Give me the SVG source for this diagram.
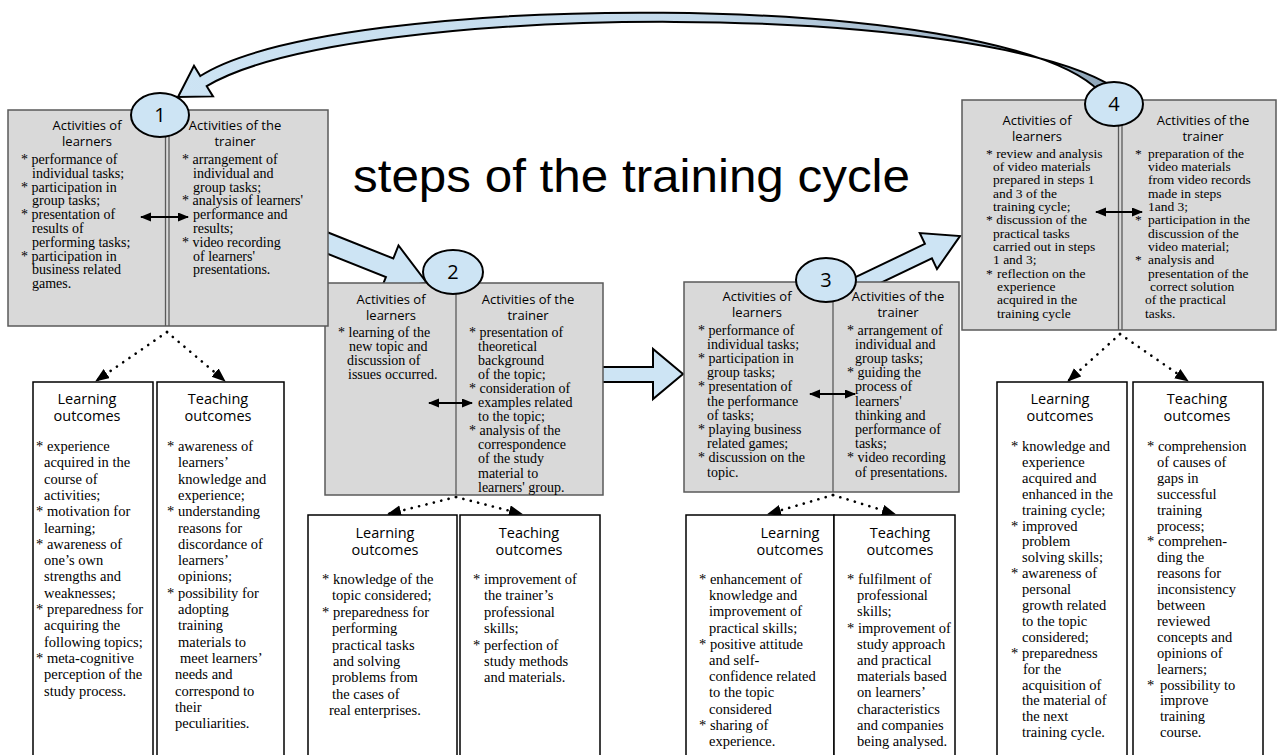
<svg xmlns="http://www.w3.org/2000/svg" width="1280" height="755" viewBox="0 0 1280 755">
<style>
.act{fill:#d9d9d9;stroke:#5a5a5a;stroke-width:1.5}
.dv{stroke:#5a5a5a;stroke-width:1.3;fill:none}
.out{fill:#fff;stroke:#000;stroke-width:1.5}
.circ{fill:#cde4f4;stroke:#000;stroke-width:2}
.num{font-family:"Open Sans","Noto Sans",sans-serif;font-size:20px;text-anchor:middle;fill:#000}
.h{font-family:"Open Sans","Noto Sans",sans-serif;font-size:13px;text-anchor:middle;fill:#000}
.oh{font-family:"Open Sans","Noto Sans",sans-serif;font-size:14.5px;text-anchor:middle;fill:#000}
.b{font-family:"Liberation Serif","Times New Roman",serif;font-size:14px;fill:#000}
.b4{font-family:"Liberation Serif","Times New Roman",serif;font-size:13.5px;fill:#000}
.ob{font-family:"Liberation Serif","Times New Roman",serif;font-size:14.5px;fill:#000}
.big{fill:#cde4f4;stroke:#000;stroke-width:2;stroke-linejoin:miter}
.dot{stroke:#000;stroke-width:2.6;stroke-dasharray:0.1 7.5;stroke-linecap:round;fill:none;marker-end:url(#dh)}
.dbl{stroke:#000;stroke-width:2;marker-start:url(#ah);marker-end:url(#ah)}
.title{font-family:"Liberation Sans",Arial,sans-serif;font-size:46px;fill:#000}
</style>
<defs>
<linearGradient id="arcg" gradientUnits="userSpaceOnUse" x1="170" y1="0" x2="1130" y2="0">
<stop offset="0" stop-color="#cde4f4"/>
<stop offset="0.55" stop-color="#c3d9ea"/>
<stop offset="0.8" stop-color="#a3b8ca"/>
<stop offset="1" stop-color="#8ea5b8"/>
</linearGradient>
<marker id="ah" markerUnits="userSpaceOnUse" markerWidth="12" markerHeight="10" refX="10" refY="4.5" orient="auto-start-reverse"><path d="M0,0 L11,4.5 L0,9 z" fill="#000"/></marker>
<marker id="dh" markerUnits="userSpaceOnUse" markerWidth="16" markerHeight="12" refX="13" refY="5.5" orient="auto"><path d="M0,0 L14,5.5 L0,11 z" fill="#000"/></marker>
</defs>
<rect x="0" y="0" width="1280" height="755" fill="#fff"/>

<text class="title" x="353" y="192" textLength="557" lengthAdjust="spacingAndGlyphs">steps of the training cycle</text>

<g id="connectors">
<path class="big" style="fill:url(#arcg)" d="M200.3,76 C335,-10 1000,-12 1100,92 L1125,95 C1005,-2 350,0 206.7,86.2 L213,96.4 L178,97 L194,65.8 Z"/>
<polygon class="big" points="323.7,230.7 393.3,258.5 398.5,245.5 426.7,282.7 380.7,290.1 385.9,277.1 316.3,249.3"/>
<polygon class="big" points="598,367 653,367 653,349 683,374 653,399 653,382 598,382"/>
<polygon class="big" points="852.9,278.4 924.9,243.9 919.8,233.1 960,236 937,269.1 931.9,258.3 859.7,292.8"/>
<line class="dot" x1="167" y1="332" x2="96" y2="381"/>
<line class="dot" x1="167" y1="332" x2="225" y2="381"/>
<line class="dot" x1="456" y1="497" x2="388" y2="514"/>
<line class="dot" x1="456" y1="497" x2="522" y2="514"/>
<line class="dot" x1="833" y1="495" x2="768" y2="514"/>
<line class="dot" x1="833" y1="495" x2="895" y2="514"/>
<line class="dot" x1="1120" y1="334" x2="1068" y2="381"/>
<line class="dot" x1="1120" y1="334" x2="1188" y2="381"/>
</g>

<g id="step2">
<rect class="act" x="325" y="283" width="278" height="212"/>
<line class="dv" x1="456" y1="283" x2="456" y2="495"/>
<text class="h"><tspan x="391" y="304">Activities of</tspan><tspan x="391" y="320">learners</tspan></text>
<text class="h"><tspan x="528" y="304">Activities of the</tspan><tspan x="528" y="320">trainer</tspan></text>
<text class="b"><tspan x="338" y="336.5">* learning of the</tspan><tspan x="349" y="350.5">new topic and</tspan><tspan x="347" y="364.5">discussion of</tspan><tspan x="348" y="378.5">issues occurred.</tspan></text>
<text class="b"><tspan x="469" y="336.5">* presentation of</tspan><tspan x="478" y="350.6">theoretical</tspan><tspan x="478" y="364.7">background</tspan><tspan x="478" y="378.8">of the topic;</tspan><tspan x="469" y="392.9">* consideration of</tspan><tspan x="478" y="407">examples related</tspan><tspan x="478" y="421.1">to the topic;</tspan><tspan x="469" y="435.2">* analysis of the</tspan><tspan x="478" y="449.3">correspondence</tspan><tspan x="478" y="463.4">of the study</tspan><tspan x="478" y="477.5">material to</tspan><tspan x="478" y="491.6">learners' group.</tspan></text>
<line class="dbl" x1="429" y1="403" x2="472" y2="403"/>
<ellipse class="circ" cx="453" cy="272" rx="30" ry="22"/>
<text class="num" x="453" y="279">2</text>
</g>

<g id="step1">
<rect class="act" x="8" y="110" width="320" height="216"/>
<line class="dv" x1="165.5" y1="110" x2="165.5" y2="326"/>
<line class="dv" x1="169" y1="110" x2="169" y2="326"/>
<text class="h"><tspan x="87" y="130">Activities of</tspan><tspan x="87" y="146">learners</tspan></text>
<text class="h"><tspan x="235" y="130">Activities of the</tspan><tspan x="235" y="146">trainer</tspan></text>
<text class="b"><tspan x="21" y="164">* performance of</tspan><tspan x="32" y="177.8">individual tasks;</tspan><tspan x="21" y="191.6">* participation in</tspan><tspan x="32" y="205.4">group tasks;</tspan><tspan x="21" y="219.2">* presentation of</tspan><tspan x="32" y="233">results of</tspan><tspan x="32" y="246.8">performing tasks;</tspan><tspan x="21" y="260.6">* participation in</tspan><tspan x="32" y="274.4">business related</tspan><tspan x="32" y="288.2">games.</tspan></text>
<text class="b"><tspan x="182" y="164">* arrangement of</tspan><tspan x="193" y="177.8">individual and</tspan><tspan x="193" y="191.6">group tasks;</tspan><tspan x="182" y="205.4">* analysis of learners'</tspan><tspan x="193" y="219.2">performance and</tspan><tspan x="193" y="233">results;</tspan><tspan x="182" y="246.8">* video recording</tspan><tspan x="193" y="260.6">of learners'</tspan><tspan x="193" y="274.4">presentations.</tspan></text>
<line class="dbl" x1="141" y1="217" x2="188" y2="217"/>
<ellipse class="circ" cx="160" cy="115" rx="29" ry="22"/>
<text class="num" x="160" y="122">1</text>
</g>

<g id="step3">
<rect class="act" x="684" y="282" width="275" height="210"/>
<line class="dv" x1="833" y1="282" x2="833" y2="492"/>
<text class="h"><tspan x="757" y="301">Activities of</tspan><tspan x="757" y="317">learners</tspan></text>
<text class="h"><tspan x="898" y="301">Activities of the</tspan><tspan x="898" y="317">trainer</tspan></text>
<text class="b"><tspan x="698" y="334.5">* performance of</tspan><tspan x="707" y="348.7">individual tasks;</tspan><tspan x="698" y="362.9">* participation in</tspan><tspan x="707" y="377.1">group tasks;</tspan><tspan x="698" y="391.3">* presentation of</tspan><tspan x="707" y="405.5">the performance</tspan><tspan x="707" y="419.7">of tasks;</tspan><tspan x="698" y="433.9">* playing business</tspan><tspan x="707" y="448.1">related games;</tspan><tspan x="698" y="462.3">* discussion on the</tspan><tspan x="707" y="476.5">topic.</tspan></text>
<text class="b"><tspan x="847" y="334.5">* arrangement of</tspan><tspan x="855" y="348.7">individual and</tspan><tspan x="855" y="362.9">group tasks;</tspan><tspan x="847" y="377.1">* guiding the</tspan><tspan x="855" y="391.3">process of</tspan><tspan x="855" y="405.5">learners'</tspan><tspan x="855" y="419.7">thinking and</tspan><tspan x="855" y="433.9">performance of</tspan><tspan x="855" y="448.1">tasks;</tspan><tspan x="847" y="462.3">* video recording</tspan><tspan x="855" y="476.5">of presentations.</tspan></text>
<line class="dbl" x1="810" y1="394" x2="855" y2="394"/>
<ellipse class="circ" cx="826" cy="280" rx="30" ry="22"/>
<text class="num" x="826" y="287">3</text>
</g>

<g id="step4">
<rect class="act" x="962" y="100" width="314" height="230"/>
<line class="dv" x1="1118.5" y1="100" x2="1118.5" y2="330"/>
<line class="dv" x1="1122" y1="100" x2="1122" y2="330"/>
<text class="h"><tspan x="1037" y="125">Activities of</tspan><tspan x="1037" y="141">learners</tspan></text>
<text class="h"><tspan x="1203" y="125">Activities of the</tspan><tspan x="1203" y="141">trainer</tspan></text>
<text class="b4"><tspan x="986" y="157.5">* review and analysis</tspan><tspan x="993" y="170.8">of video materials</tspan><tspan x="993" y="184.2">prepared in steps 1</tspan><tspan x="993" y="197.5">and 3 of the</tspan><tspan x="993" y="210.8">training cycle;</tspan><tspan x="986" y="224.2">* discussion of the</tspan><tspan x="993" y="237.5">practical tasks</tspan><tspan x="993" y="250.8">carried out in steps</tspan><tspan x="993" y="264.2">1 and 3;</tspan><tspan x="986" y="277.5">*</tspan><tspan x="997" y="277.5">reflection on the</tspan><tspan x="997" y="290.8">experience</tspan><tspan x="997" y="304.2">acquired in the</tspan><tspan x="997" y="317.5">training cycle</tspan></text>
<text class="b4"><tspan x="1135" y="157.5">*</tspan><tspan x="1148" y="157.5">preparation of the</tspan><tspan x="1148" y="170.8">video materials</tspan><tspan x="1148" y="184.2">from video records</tspan><tspan x="1148" y="197.5">made in steps</tspan><tspan x="1148" y="210.8">1and 3;</tspan><tspan x="1135" y="224.2">*</tspan><tspan x="1148" y="224.2">participation in the</tspan><tspan x="1148" y="237.5">discussion of the</tspan><tspan x="1148" y="250.8">video material;</tspan><tspan x="1135" y="264.2">*</tspan><tspan x="1148" y="264.2">analysis and</tspan><tspan x="1148" y="277.5">presentation of the</tspan><tspan x="1150" y="290.8">correct solution</tspan><tspan x="1145" y="304.2">of the practical</tspan><tspan x="1145" y="317.5">tasks.</tspan></text>
<line class="dbl" x1="1096" y1="212" x2="1142" y2="212"/>
<ellipse class="circ" cx="1114" cy="104" rx="29" ry="22"/>
<text class="num" x="1114" y="111">4</text>
</g>

<g id="learning1">
<rect class="out" x="33" y="382" width="120" height="380"/>
<text class="oh"><tspan x="87" y="404">Learning</tspan><tspan x="87" y="421">outcomes</tspan></text>
<text class="ob"><tspan x="36" y="451">* experience</tspan><tspan x="44" y="467.3">acquired in the</tspan><tspan x="44" y="483.6">course of</tspan><tspan x="44" y="499.9">activities;</tspan><tspan x="36" y="516.2">* motivation for</tspan><tspan x="44" y="532.5">learning;</tspan><tspan x="36" y="548.8">* awareness of</tspan><tspan x="44" y="565.1">one’s own</tspan><tspan x="44" y="581.4">strengths and</tspan><tspan x="44" y="597.7">weaknesses;</tspan><tspan x="36" y="614">* preparedness for</tspan><tspan x="44" y="630.3">acquiring the</tspan><tspan x="44" y="646.6">following topics;</tspan><tspan x="36" y="662.9">* meta-cognitive</tspan><tspan x="44" y="679.2">perception of the</tspan><tspan x="44" y="695.5">study process.</tspan></text>
</g>

<g id="teaching1">
<rect class="out" x="157" y="382" width="127" height="380"/>
<text class="oh"><tspan x="218" y="404">Teaching</tspan><tspan x="218" y="421">outcomes</tspan></text>
<text class="ob"><tspan x="167" y="451">* awareness of</tspan><tspan x="178" y="467.3">learners’</tspan><tspan x="178" y="483.6">knowledge and</tspan><tspan x="178" y="499.9">experience;</tspan><tspan x="167" y="516.2">* understanding</tspan><tspan x="178" y="532.5">reasons for</tspan><tspan x="178" y="548.8">discordance of</tspan><tspan x="178" y="565.1">learners’</tspan><tspan x="178" y="581.4">opinions;</tspan><tspan x="167" y="597.7">* possibility for</tspan><tspan x="178" y="614">adopting</tspan><tspan x="178" y="630.3">training</tspan><tspan x="178" y="646.6">materials to</tspan><tspan x="180" y="662.9">meet learners’</tspan><tspan x="175" y="679.2">needs and</tspan><tspan x="175" y="695.5">correspond to</tspan><tspan x="175" y="711.8">their</tspan><tspan x="175" y="728.1">peculiarities.</tspan></text>
</g>

<g id="learning2">
<rect class="out" x="308" y="515" width="149" height="250"/>
<text class="oh"><tspan x="385" y="538">Learning</tspan><tspan x="385" y="555">outcomes</tspan></text>
<text class="ob"><tspan x="322" y="584">* knowledge of the</tspan><tspan x="332" y="600.4">topic considered;</tspan><tspan x="322" y="616.8">* preparedness for</tspan><tspan x="332" y="633.2">performing</tspan><tspan x="332" y="649.6">practical tasks</tspan><tspan x="333" y="666">and solving</tspan><tspan x="332" y="682.4">problems from</tspan><tspan x="332" y="698.8">the cases of</tspan><tspan x="329" y="715.2">real enterprises.</tspan></text>
</g>

<g id="teaching2">
<rect class="out" x="460" y="515" width="140" height="250"/>
<text class="oh"><tspan x="529" y="538">Teaching</tspan><tspan x="529" y="555">outcomes</tspan></text>
<text class="ob"><tspan x="473" y="584">* improvement of</tspan><tspan x="484" y="600.4">the trainer’s</tspan><tspan x="484" y="616.8">professional</tspan><tspan x="484" y="633.2">skills;</tspan><tspan x="473" y="649.6">* perfection of</tspan><tspan x="484" y="666">study methods</tspan><tspan x="484" y="682.4">and materials.</tspan></text>
</g>

<g id="learning3">
<rect class="out" x="686" y="515" width="148" height="250"/>
<text class="oh"><tspan x="790" y="538">Learning</tspan><tspan x="790" y="555">outcomes</tspan></text>
<text class="ob"><tspan x="699" y="584">* enhancement of</tspan><tspan x="709" y="600.2">knowledge and</tspan><tspan x="709" y="616.4">improvement of</tspan><tspan x="709" y="632.6">practical skills;</tspan><tspan x="699" y="648.8">* positive attitude</tspan><tspan x="709" y="665">and self-</tspan><tspan x="709" y="681.2">confidence related</tspan><tspan x="709" y="697.4">to the topic</tspan><tspan x="709" y="713.6">considered</tspan><tspan x="699" y="729.8">* sharing of</tspan><tspan x="709" y="746">experience.</tspan></text>
</g>

<g id="teaching3">
<rect class="out" x="834" y="515" width="121" height="250"/>
<text class="oh"><tspan x="900" y="538">Teaching</tspan><tspan x="900" y="555">outcomes</tspan></text>
<text class="ob"><tspan x="847" y="584">* fulfilment of</tspan><tspan x="857" y="600.2">professional</tspan><tspan x="857" y="616.4">skills;</tspan><tspan x="847" y="632.6">* improvement of</tspan><tspan x="857" y="648.8">study approach</tspan><tspan x="857" y="665">and practical</tspan><tspan x="857" y="681.2">materials based</tspan><tspan x="857" y="697.4">on learners’</tspan><tspan x="857" y="713.6">characteristics</tspan><tspan x="857" y="729.8">and companies</tspan><tspan x="857" y="746">being analysed.</tspan></text>
</g>

<g id="learning4">
<rect class="out" x="997" y="382" width="130" height="380"/>
<text class="oh"><tspan x="1060" y="404">Learning</tspan><tspan x="1060" y="421">outcomes</tspan></text>
<text class="ob"><tspan x="1011" y="451">* knowledge and</tspan><tspan x="1022" y="466.9">experience</tspan><tspan x="1022" y="482.8">acquired and</tspan><tspan x="1022" y="498.7">enhanced in the</tspan><tspan x="1022" y="514.6">training cycle;</tspan><tspan x="1011" y="530.5">* improved</tspan><tspan x="1022" y="546.4">problem</tspan><tspan x="1022" y="562.3">solving skills;</tspan><tspan x="1011" y="578.2">* awareness of</tspan><tspan x="1022" y="594.1">personal</tspan><tspan x="1022" y="610">growth related</tspan><tspan x="1022" y="625.9">to the topic</tspan><tspan x="1022" y="641.8">considered;</tspan><tspan x="1011" y="657.7">* preparedness</tspan><tspan x="1023" y="673.6">for the</tspan><tspan x="1022" y="689.5">acquisition of</tspan><tspan x="1022" y="705.4">the material of</tspan><tspan x="1022" y="721.3">the next</tspan><tspan x="1022" y="737.2">training cycle.</tspan></text>
</g>

<g id="teaching4">
<rect class="out" x="1133" y="382" width="130" height="380"/>
<text class="oh"><tspan x="1197" y="404">Teaching</tspan><tspan x="1197" y="421">outcomes</tspan></text>
<text class="ob"><tspan x="1147" y="451">* comprehension</tspan><tspan x="1157" y="466.9">of causes of</tspan><tspan x="1157" y="482.8">gaps in</tspan><tspan x="1157" y="498.7">successful</tspan><tspan x="1157" y="514.6">training</tspan><tspan x="1157" y="530.5">process;</tspan><tspan x="1147" y="546.4">* comprehen-</tspan><tspan x="1157" y="562.3">ding the</tspan><tspan x="1157" y="578.2">reasons for</tspan><tspan x="1157" y="594.1">inconsistency</tspan><tspan x="1157" y="610">between</tspan><tspan x="1157" y="625.9">reviewed</tspan><tspan x="1157" y="641.8">concepts and</tspan><tspan x="1157" y="657.7">opinions of</tspan><tspan x="1157" y="673.6">learners;</tspan><tspan x="1147" y="689.5">*</tspan><tspan x="1160" y="689.5">possibility to</tspan><tspan x="1160" y="705.4">improve</tspan><tspan x="1160" y="721.3">training</tspan><tspan x="1160" y="737.2">course.</tspan></text>
</g>
</svg>
